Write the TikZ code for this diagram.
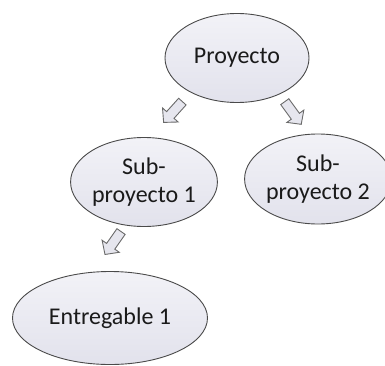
\documentclass[tikz,border=0pt]{standalone}
\usepackage{fontspec}
\setmainfont{Carlito}
\usetikzlibrary{shapes.geometric}
\definecolor{bubbletop}{HTML}{F2F2F7}
\definecolor{bubblebot}{HTML}{E2E2EC}
\definecolor{bubbleedge}{HTML}{4A4A4A}
\definecolor{arrowedge}{HTML}{6A6A6A}
\definecolor{arrowfill}{HTML}{E6E6EE}
\definecolor{labeltext}{HTML}{1A1A1A}
\tikzset{
  bubble/.style={ellipse, draw=bubbleedge, line width=0.9pt,
    top color=bubbletop, bottom color=bubblebot, inner sep=0pt,
    text=labeltext, align=center,
    font=\fontsize{24}{28}\selectfont},
  arrowline/.style={draw=arrowedge, line width=0.9pt, fill=arrowfill,
    line join=miter},
  % hollow block arrow, 28pt long, pointing along the local x axis
  blockarr/.pic={
    \coordinate (-c) at (0,0);
    \path[arrowline] (-14,-5) -- (4,-5) -- (4,-10.5) -- (14,0)
      -- (4,10.5) -- (4,5) -- (-14,5) -- cycle;
  }
}
\begin{document}
\begin{tikzpicture}[x=1pt,y=1pt]
  \useasboundingbox (0,0) rectangle (385,365);
  % tree of work packages
  \node[bubble, minimum width=144pt, minimum height=89pt] (proj) at (237,307) {Proyecto};
  \node[bubble, minimum width=136pt, minimum height=89pt] (sub1) at (144,183) {Sub-\\proyecto 1};
  \node[bubble, minimum width=132pt, minimum height=90pt] (sub2) at (318,186) {Sub-\\proyecto 2};
  \node[bubble, minimum width=195pt, minimum height=93pt] (ent1) at (110,47) {Entregable 1};
  % block arrows between levels
  \pic[rotate=-132] (a1) at (173,253) {blockarr};
  \pic[rotate=-54] (a2) at (293,252) {blockarr};
  \pic[rotate=-125] (a3) at (113,122) {blockarr};
\end{tikzpicture}
\end{document}
